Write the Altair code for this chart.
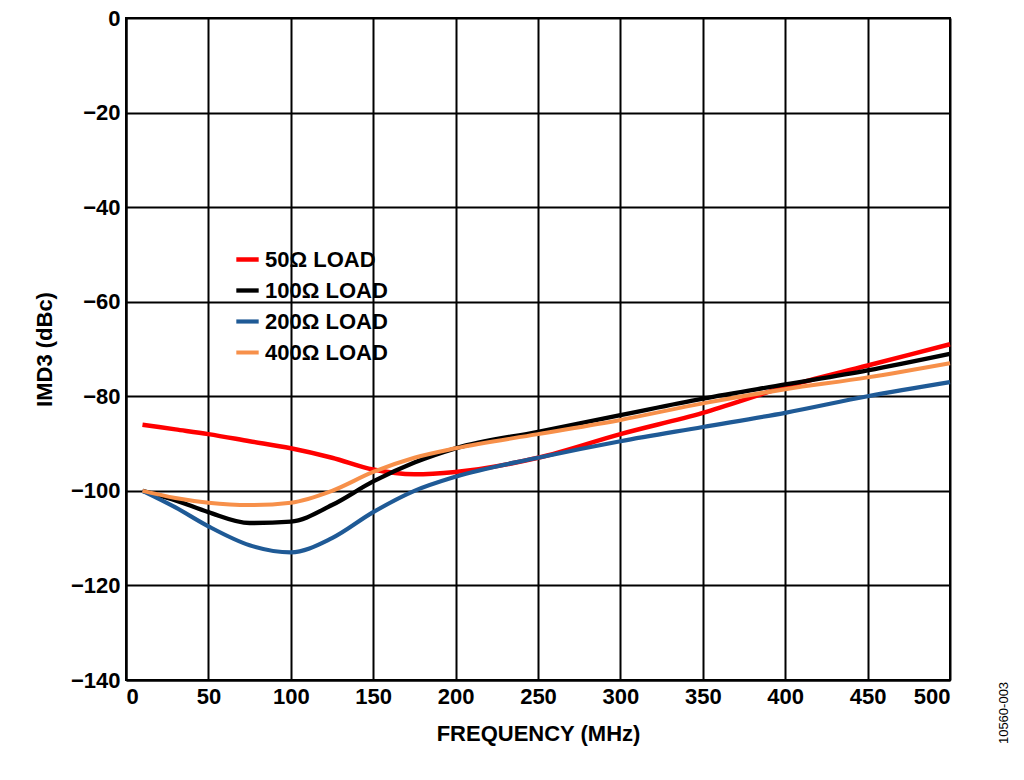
import altair as alt
import pandas as pd

freq = [10, 30, 50, 75, 100, 125, 150, 175, 200, 250, 300, 350, 400, 450, 500]
load50 = [-86, -87, -88, -89.5, -91, -93, -95.5, -96.5, -96, -93, -88, -83.5, -78, -73.5, -69]
load100 = [-100, -102, -104.5, -106.8, -106.5, -103, -98, -94, -91, -87.5, -84, -80.5, -77.5, -74.5, -71]
load200 = [-100, -103.5, -107.5, -111.5, -113, -110, -104.5, -100, -97, -93, -89.5, -86.5, -83.5, -80, -77]
load400 = [-100, -101.5, -102.5, -103, -102.5, -100, -96, -93, -91, -88, -85, -81.5, -78.5, -76, -73]
names = ["50Ω LOAD", "100Ω LOAD", "200Ω LOAD", "400Ω LOAD"]
colors = ["#ff0000", "#000000", "#1f5a96", "#f7904a"]
widths = [4.5, 4, 3, 2]

rows = []
for n, ys in zip(names, [load50, load100, load200, load400]):
    for f, v in zip(freq, ys):
        rows.append({"f": f, "v": v, "s": n})
df = pd.DataFrame(rows)

FONT = "Liberation Sans"
lines = alt.Chart(df).mark_line(interpolate="monotone").encode(
    x=alt.X("f:Q", scale=alt.Scale(domain=[0, 500], nice=False),
            axis=alt.Axis(values=list(range(0, 501, 50)), title="FREQUENCY (MHz)")),
    y=alt.Y("v:Q", scale=alt.Scale(domain=[-140, 0], nice=False),
            axis=alt.Axis(values=list(range(-140, 1, 20)), title="IMD3 (dBc)",
                          labelExpr="replace(datum.label, '-', '–')")),
    color=alt.Color("s:N", scale=alt.Scale(domain=names, range=colors),
                    legend=alt.Legend(title=None, orient="none", legendX=108, legendY=228,
                                      symbolType="stroke", symbolSize=500, symbolStrokeWidth=4,
                                      labelFontSize=22,
                                      labelFont=FONT, labelFontWeight="bold", rowPadding=6,
                                      labelColor="black")),
    strokeWidth=alt.StrokeWidth("s:N", scale=alt.Scale(domain=names, range=widths), legend=None),
)

side = alt.Chart(pd.DataFrame({"t": ["10560-003"]})).mark_text(
    angle=270, fontSize=13, font=FONT, align="center").encode(
    text="t:N", x=alt.value(878), y=alt.value(695))

chart = alt.layer(lines, side).properties(
    width=824, height=662,
    autosize=alt.AutoSizeParams(type="none"),
    padding={"left": 118, "top": 10, "right": 66, "bottom": 92},
).configure_axis(
    grid=True, gridColor="black", gridWidth=2, domainColor="black", domainWidth=2,
    tickColor="black", tickSize=0, labelFont=FONT, labelFontWeight="bold", labelFontSize=22,
    labelColor="black", titleFont=FONT, titleFontWeight="bold", titleFontSize=22,
    titleColor="black", labelPadding=6,
).configure_axisX(titlePadding=16).configure_axisY(titlePadding=14).configure_view(
    stroke="black", strokeWidth=2)

chart.save("out.html", embed_options={"renderer": "svg", "actions": False})
